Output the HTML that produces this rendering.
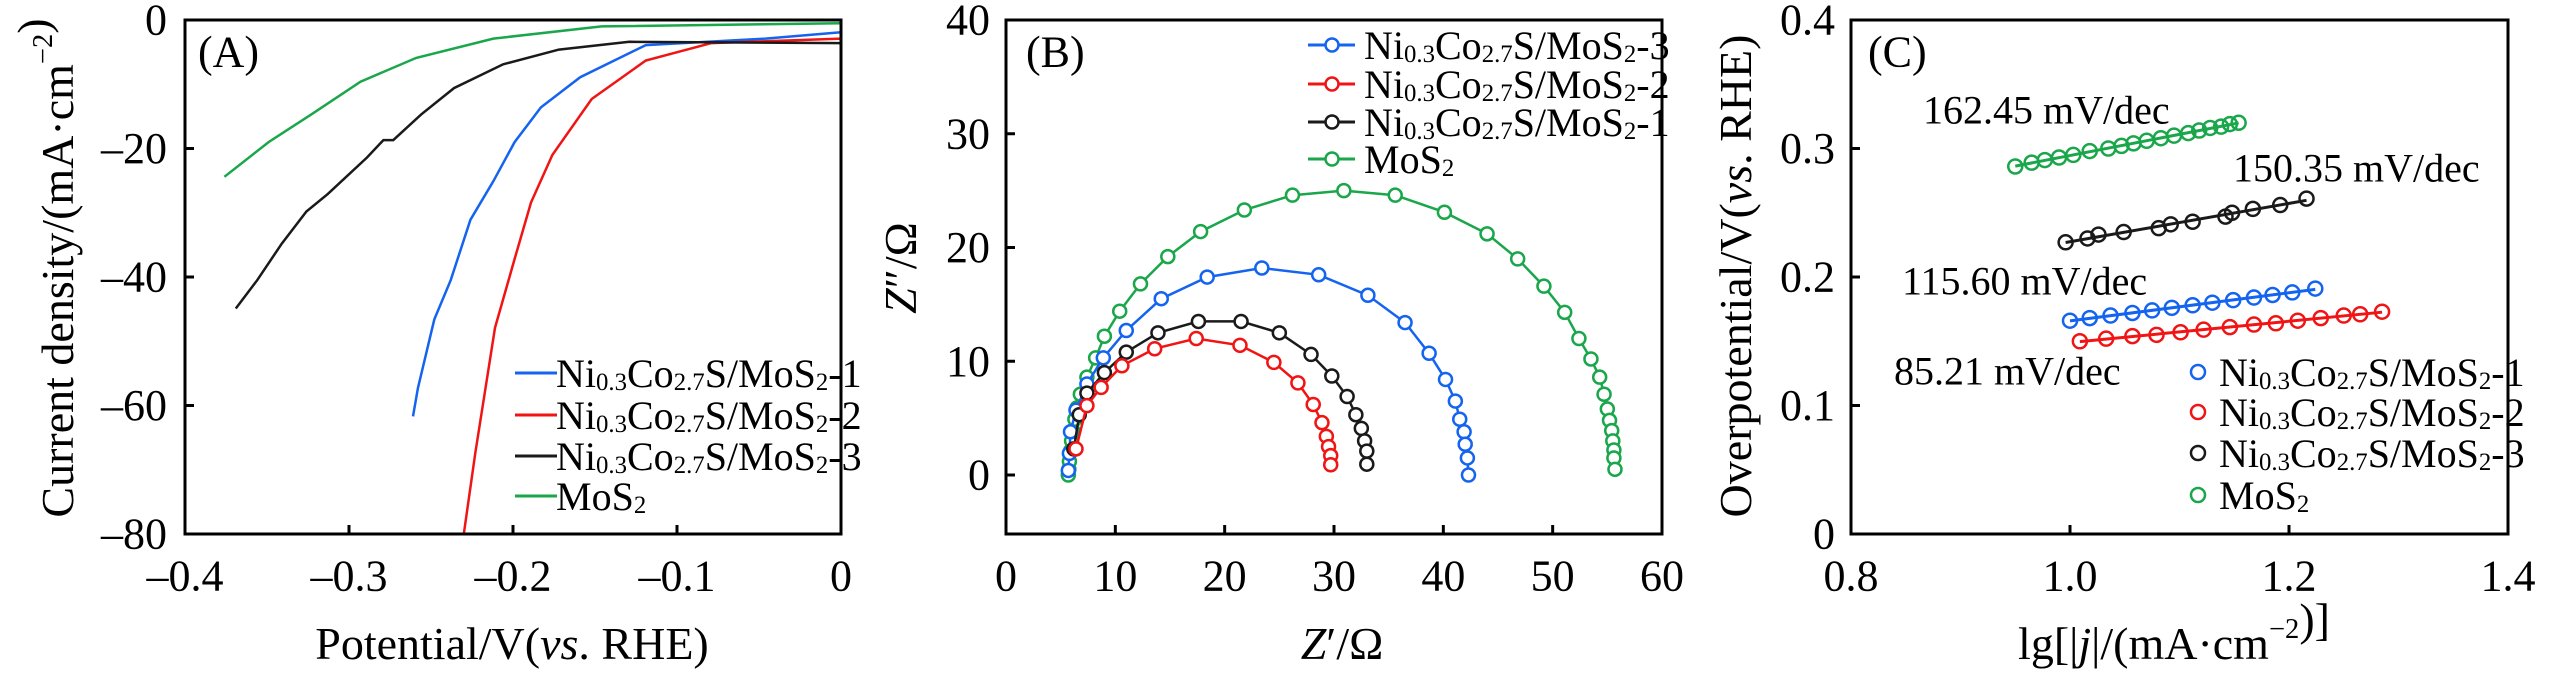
<!DOCTYPE html>
<html><head><meta charset="utf-8"><style>
html,body{margin:0;padding:0;background:#fff;}
svg{display:block;}
svg text, svg tspan{font-family:"Liberation Serif","Times New Roman",serif;}
</style></head><body>
<svg id="fig" width="2567" height="678" viewBox="0 0 2567 678" xmlns="http://www.w3.org/2000/svg" font-family="Liberation Serif, serif"></svg>
<script>
// ---------- Panel A data (LSV) ----------
const aNames = ["Ni1","Ni2","Ni3","MoS2"];
const aBlueV = [-0.261,-0.258,-0.248,-0.238,-0.226,-0.212,-0.199,-0.183,-0.159,-0.119,-0.046,0];
const aBlueJ = [-61.7,-57.3,-46.6,-40.5,-31.1,-25.1,-19.0,-13.6,-8.9,-3.9,-2.9,-1.9];
const aRedV = [-0.230,-0.223,-0.211,-0.199,-0.189,-0.176,-0.152,-0.119,-0.079,0];
const aRedJ = [-80,-67.4,-47.9,-37.2,-28.4,-21.0,-12.3,-6.3,-3.6,-2.9];
const aBlackV = [-0.369,-0.356,-0.341,-0.326,-0.313,-0.289,-0.279,-0.273,-0.256,-0.236,-0.206,-0.172,-0.129,0];
const aBlackJ = [-44.9,-40.5,-34.8,-29.8,-27.1,-21.4,-18.7,-18.7,-14.7,-10.6,-6.9,-4.6,-3.4,-3.6];
const aGreenV = [-0.376,-0.349,-0.323,-0.293,-0.259,-0.212,-0.146,0];
const aGreenJ = [-24.4,-19.0,-14.7,-9.6,-5.9,-2.9,-1.0,-0.5];
const aXTicks = [-0.4,-0.3,-0.2,-0.1,0];
const aXTickLabels = ["\u20130.4","\u20130.3","\u20130.2","\u20130.1","0"];
const aYTicks = [0,-20,-40,-60,-80];
const aYTickLabels = ["0","\u201320","\u201340","\u201360","\u201380"];
// ---------- Panel B data (Nyquist) ----------
const bGreenX = [5.7,5.75,5.8,5.9,6.0,6.1,6.3,6.5,6.8,7.4,8.2,9.0,10.4,12.3,14.8,17.8,21.8,26.2,30.9,35.6,40.1,44.0,46.8,49.2,51.1,52.4,53.5,54.3,54.7,55.0,55.2,55.4,55.5,55.6,55.6,55.7];
const bGreenY = [0,0.5,1.2,2.1,3.0,3.9,4.9,5.9,7.1,8.6,10.3,12.2,14.4,16.8,19.2,21.4,23.3,24.6,25.0,24.6,23.1,21.2,19.0,16.6,14.3,12.0,10.2,8.6,7.1,5.8,4.8,3.9,3.0,2.2,1.5,0.5];
const bBlueX = [5.7,5.8,5.9,6.4,7.4,8.9,11.0,14.2,18.4,23.4,28.6,33.1,36.5,38.7,40.2,41.1,41.5,41.9,42.0,42.2,42.3];
const bBlueY = [0.4,1.9,3.8,5.7,8.0,10.3,12.7,15.5,17.4,18.2,17.6,15.8,13.4,10.7,8.4,6.5,4.9,3.8,2.7,1.5,0];
const bBlackX = [6.2,6.7,7.4,9.0,11.0,13.9,17.6,21.5,25.0,27.9,29.8,31.2,32.0,32.5,32.8,33.0,33.0];
const bBlackY = [2.3,5.3,7.2,9.0,10.8,12.5,13.5,13.5,12.5,10.6,8.7,6.9,5.3,4.1,3.0,2.1,0.95];
const bRedX = [6.4,7.4,8.7,10.6,13.6,17.4,21.4,24.5,26.7,28.1,28.9,29.3,29.5,29.7,29.7];
const bRedY = [2.3,6.1,7.7,9.6,11.1,12.0,11.4,9.9,8.1,6.2,4.6,3.4,2.5,1.7,0.9];
const bXTicks = [0,10,20,30,40,50,60];
const bYTicks = [0,10,20,30,40];
// ---------- Panel C data (Tafel) ----------
const cGreenX = [0.950,0.965,0.977,0.990,1.003,1.018,1.035,1.047,1.058,1.070,1.083,1.095,1.108,1.118,1.128,1.138,1.146,1.154];
const cGreenY = [0.286,0.289,0.291,0.293,0.295,0.298,0.300,0.302,0.304,0.306,0.308,0.310,0.312,0.314,0.316,0.317,0.319,0.320];
const cBlackX = [0.996,1.016,1.026,1.049,1.081,1.092,1.112,1.142,1.148,1.167,1.192,1.216];
const cBlackY = [0.227,0.230,0.233,0.235,0.238,0.241,0.243,0.247,0.250,0.253,0.256,0.261];
const cBlueX = [1.000,1.018,1.037,1.057,1.075,1.093,1.112,1.130,1.149,1.168,1.185,1.203,1.224];
const cBlueY = [0.166,0.168,0.170,0.172,0.174,0.176,0.178,0.180,0.182,0.184,0.186,0.188,0.191];
const cRedX = [1.009,1.033,1.057,1.079,1.101,1.122,1.146,1.168,1.188,1.208,1.229,1.250,1.265,1.285];
const cRedY = [0.150,0.152,0.154,0.155,0.157,0.159,0.161,0.163,0.164,0.166,0.168,0.170,0.171,0.173];
const cXTicks = [0.8,1.0,1.2,1.4];
const cXTickLabels = ["0.8","1.0","1.2","1.4"];
const cYTicks = [0,0.1,0.2,0.3,0.4];
const cYTickLabels = ["0","0.1","0.2","0.3","0.4"];
const cSlopes = ["162.45 mV/dec","150.35 mV/dec","115.60 mV/dec","85.21 mV/dec"];

const BLUE="#1464f0", RED="#f01414", BLACK="#1a1a1a", GREEN="#1aa64a";
const FONT="Liberation Serif, Times New Roman, serif";
const NS="http://www.w3.org/2000/svg";
const svg=document.getElementById('fig');
function mk(tag,attrs,parent){const e=document.createElementNS(NS,tag);for(const k in attrs)e.setAttribute(k,attrs[k]);if(tag==='text')e.setAttribute('font-family',FONT);(parent||svg).appendChild(e);return e;}
function scale(d0,d1,r0,r1){return v=>r0+(v-d0)/(d1-d0)*(r1-r0);}
function richText(parent,x,y,parts,size,anchor){
  const t=mk('text',{x:x,y:y,'font-size':size,'text-anchor':anchor||'start','dominant-baseline':'central'},parent);
  parts.forEach(p=>{const s=mk('tspan',{},t);s.textContent=p[0];
    if(p[1]==='sub'){s.setAttribute('font-size',size*0.62);s.setAttribute('dy',size*0.22);}
    if(p[1]==='up'){s.setAttribute('dy',-size*0.22);}
    if(p[1]==='sup'){s.setAttribute('font-size',size*0.62);s.setAttribute('dy',-size*0.3);}
    if(p[1]==='i'){s.setAttribute('font-style','italic');}
  });
  return t;
}
function sampleName(n){return [["Ni"],["0.3","sub"],["Co","up"],["2.7","sub"],["S/MoS","up"],["2","sub"],["-"+n,"up"]];}
function frame(g,x0,x1,y0,y1){mk('rect',{x:x0,y:y0,width:x1-x0,height:y1-y0,fill:'none',stroke:'#000','stroke-width':3},g);}
function pathFrom(xs,ys,sx,sy){return xs.map((v,i)=>(i?'L':'M')+sx(v).toFixed(1)+' '+sy(ys[i]).toFixed(1)).join(' ');}

// ================= Panel A =================
(function(){
  const g=mk('g',{});
  
  
  const X0=185,X1=841,Y0=20,Y1=534;
  const sx=scale(-0.4,0,X0,X1), sy=scale(0,-80,Y0,Y1);
  const series=[[aBlueV,aBlueJ,BLUE,'lsv-line-ni-1'],[aRedV,aRedJ,RED,'lsv-line-ni-2'],[aBlackV,aBlackJ,BLACK,'lsv-line-ni-3'],[aGreenV,aGreenJ,GREEN,'lsv-line-mos2']];
  const clip=mk('clipPath',{id:'clipA'},g);mk('rect',{x:X0,y:Y0,width:X1-X0,height:Y1-Y0},clip);
  series.forEach(s=>{const p=mk('path',{d:pathFrom(s[0],s[1],sx,sy),fill:'none',stroke:s[2],'stroke-width':2.5,'clip-path':'url(#clipA)'},g);
    
    });
  frame(g,X0,X1,Y0,Y1);
  aXTicks.forEach((v,i)=>{const x=sx(v);mk('line',{x1:x,x2:x,y1:Y1,y2:Y1-9,stroke:'#000','stroke-width':3},g);
    const t=mk('text',{x:x,y:576,'font-size':44,'text-anchor':'middle','dominant-baseline':'central'},g);t.textContent=aXTickLabels[i];
    
    });
  aYTicks.forEach((v,i)=>{const y=sy(v);mk('line',{x1:X0,x2:X0+9,y1:y,y2:y,stroke:'#000','stroke-width':3},g);
    const t=mk('text',{x:167,y:y,'font-size':44,'text-anchor':'end','dominant-baseline':'central'},g);t.textContent=aYTickLabels[i];
    
    });
  const lab=mk('text',{x:198,y:52,'font-size':44,'dominant-baseline':'central'},g);lab.textContent='(A)';
  
  
  const xt=richText(g,512,643,[["Potential/V("],["vs","i"],[". RHE)"]],46,'middle');
  
  
  const yg=mk('g',{transform:'translate(57,268) rotate(-90)'},g);
  const yt=richText(yg,0,0,[["Current density/(mA\u00b7cm"],["\u22122","sup"],[")","up"]],46,'middle');
  
  
  const leg=[[BLUE,sampleName(1)],[RED,sampleName(2)],[BLACK,sampleName(3)],[GREEN,[["MoS"],["2","sub"]]]];
  const ly=[373,415,456,496];
  leg.forEach((l,i)=>{const e=mk('g',{},g);
    
    
    mk('line',{x1:515,x2:557,y1:ly[i],y2:ly[i],stroke:l[0],'stroke-width':3},e);
    richText(e,556,ly[i],l[1],40);});
})();

// ================= Panel B =================
(function(){
  const g=mk('g',{});
  
  
  const X0=1006,X1=1662,Y0=20,Y1=534;
  const sx=scale(0,60,X0,X1), sy=scale(0,40,475,20);
  const series=[[bGreenX,bGreenY,GREEN,'nyquist-mos2'],[bBlueX,bBlueY,BLUE,'nyquist-ni-3'],[bBlackX,bBlackY,BLACK,'nyquist-ni-1'],[bRedX,bRedY,RED,'nyquist-ni-2']];
  series.forEach(s=>{const sg=mk('g',{},g);
    
    
    mk('path',{d:pathFrom(s[0],s[1],sx,sy),fill:'none',stroke:s[2],'stroke-width':2.5},sg);
    s[0].forEach((v,i)=>{mk('circle',{cx:sx(v),cy:sy(s[1][i]),r:6.5,fill:'#fff',stroke:s[2],'stroke-width':2.5},sg);});});
  frame(g,X0,X1,Y0,Y1);
  bXTicks.forEach(v=>{const x=sx(v);if(v>0&&v<60)mk('line',{x1:x,x2:x,y1:Y1,y2:Y1-9,stroke:'#000','stroke-width':3},g);
    const t=mk('text',{x:x,y:576,'font-size':44,'text-anchor':'middle','dominant-baseline':'central'},g);t.textContent=String(v);
    
    });
  bYTicks.forEach(v=>{const y=sy(v);mk('line',{x1:X0,x2:X0+9,y1:y,y2:y,stroke:'#000','stroke-width':3},g);
    const t=mk('text',{x:990,y:y,'font-size':44,'text-anchor':'end','dominant-baseline':'central'},g);t.textContent=String(v);
    
    });
  const lab=mk('text',{x:1026,y:52,'font-size':44,'dominant-baseline':'central'},g);lab.textContent='(B)';
  
  
  const xt=richText(g,1342,643,[["Z","i"],["\u2032/\u03a9"]],46,'middle');
  
  
  const yg=mk('g',{transform:'translate(900,268) rotate(-90)'},g);
  const yt=richText(yg,0,0,[["Z","i"],["\u2033/\u03a9"]],46,'middle');
  
  
  const leg=[[BLUE,sampleName(3)],[RED,sampleName(2)],[BLACK,sampleName(1)],[GREEN,[["MoS"],["2","sub"]]]];
  const ly=[45,84,122,159];
  leg.forEach((l,i)=>{const e=mk('g',{},g);
    
    
    mk('line',{x1:1308,x2:1355,y1:ly[i],y2:ly[i],stroke:l[0],'stroke-width':3},e);
    mk('circle',{cx:1332,cy:ly[i],r:6.5,fill:'#fff',stroke:l[0],'stroke-width':2.5},e);
    richText(e,1364,ly[i],l[1],40);});
})();

// ================= Panel C =================
(function(){
  const g=mk('g',{});
  
  
  const X0=1851,X1=2508,Y0=20,Y1=534;
  const sx=scale(0.8,1.4,X0,X1), sy=scale(0,0.4,Y1,Y0);
  const series=[[cGreenX,cGreenY,GREEN,'tafel-mos2'],[cBlackX,cBlackY,BLACK,'tafel-ni-3'],[cBlueX,cBlueY,BLUE,'tafel-ni-1'],[cRedX,cRedY,RED,'tafel-ni-2']];
  series.forEach(s=>{const sg=mk('g',{},g);
    
    
    s[0].forEach((v,i)=>{mk('circle',{cx:sx(v),cy:sy(s[1][i]),r:7,fill:'none',stroke:s[2],'stroke-width':2.5},sg);});
    const n=s[0].length;let mx=0,my=0;s[0].forEach((v,i)=>{mx+=v;my+=s[1][i];});mx/=n;my/=n;
    let num=0,den=0;s[0].forEach((v,i)=>{num+=(v-mx)*(s[1][i]-my);den+=(v-mx)*(v-mx);});
    const k=num/den,b=my-k*mx,xa=s[0][0],xb=s[0][n-1];
    const fl=mk('line',{x1:sx(xa),y1:sy(k*xa+b),x2:sx(xb),y2:sy(k*xb+b),stroke:s[2],'stroke-width':3},sg);
    
    });
  frame(g,X0,X1,Y0,Y1);
  cXTicks.forEach((v,i)=>{const x=sx(v);if(i>0&&i<cXTicks.length-1)mk('line',{x1:x,x2:x,y1:Y1,y2:Y1-9,stroke:'#000','stroke-width':3},g);
    const t=mk('text',{x:x,y:576,'font-size':44,'text-anchor':'middle','dominant-baseline':'central'},g);t.textContent=cXTickLabels[i];
    
    });
  cYTicks.forEach((v,i)=>{const y=sy(v);mk('line',{x1:X0,x2:X0+9,y1:y,y2:y,stroke:'#000','stroke-width':3},g);
    const t=mk('text',{x:1835,y:y,'font-size':44,'text-anchor':'end','dominant-baseline':'central'},g);t.textContent=cYTickLabels[i];
    
    });
  const lab=mk('text',{x:1868,y:52,'font-size':44,'dominant-baseline':'central'},g);lab.textContent='(C)';
  
  
  const ann=[[1923,110],[2233,168],[1902,281],[1894,371]];
  cSlopes.forEach((s,i)=>{const t=mk('text',{x:ann[i][0],y:ann[i][1],'font-size':40,'dominant-baseline':'central'},g);t.textContent=s;
    
    });
  const xt=richText(g,2174,643,[["lg[|"],["j","i"],["|/(mA\u00b7cm"],["\u22122","sup"],[")]","up"]],46,'middle');
  
  
  const yg=mk('g',{transform:'translate(1735,276) rotate(-90)'},g);
  const yt=richText(yg,0,0,[["Overpotential/V("],["vs","i"],[". RHE)"]],46,'middle');
  
  
  const leg=[[BLUE,sampleName(1)],[RED,sampleName(2)],[BLACK,sampleName(3)],[GREEN,[["MoS"],["2","sub"]]]];
  const ly=[372,412,453,495];
  leg.forEach((l,i)=>{const e=mk('g',{},g);
    
    
    mk('circle',{cx:2198,cy:ly[i],r:7,fill:'none',stroke:l[0],'stroke-width':2.5},e);
    richText(e,2219,ly[i],l[1],40);});
})();
</script>
</body></html>
